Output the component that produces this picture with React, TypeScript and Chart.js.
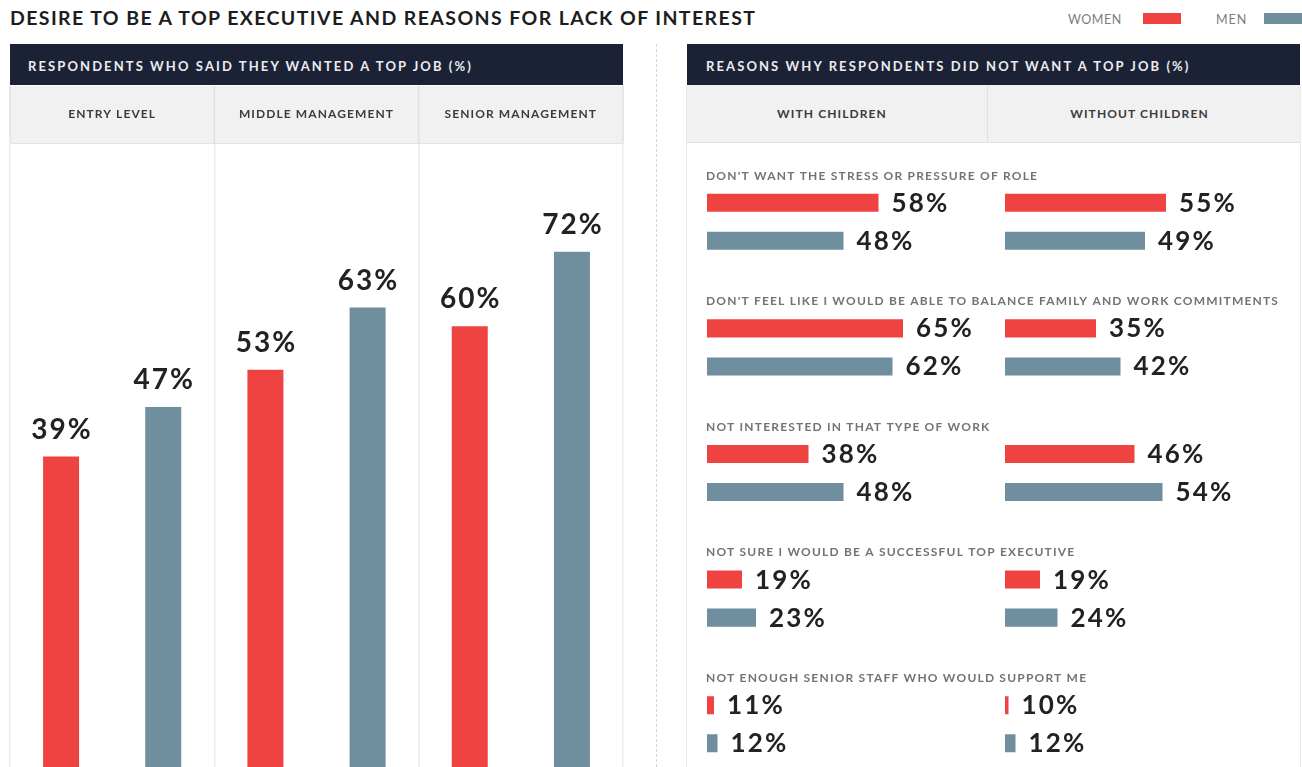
import React, { useEffect, useRef } from "react";
import { Chart, registerables } from "chart.js";

Chart.register(...registerables);

// ---------- data ----------
const TITLE = "DESIRE TO BE A TOP EXECUTIVE AND REASONS FOR LACK OF INTEREST";
const SERIES = ["WOMEN", "MEN"];
const LEFT_HEADER = "RESPONDENTS WHO SAID THEY WANTED A TOP JOB (%)";
const RIGHT_HEADER = "REASONS WHY RESPONDENTS DID NOT WANT A TOP JOB (%)";

const LEVELS = ["ENTRY LEVEL", "MIDDLE MANAGEMENT", "SENIOR MANAGEMENT"];
const WANT_WOMEN = [39, 53, 60];
const WANT_MEN = [47, 63, 72];

const GROUPS = ["WITH CHILDREN", "WITHOUT CHILDREN"];
const REASONS = [
  "DON'T WANT THE STRESS OR PRESSURE OF ROLE",
  "DON'T FEEL LIKE I WOULD BE ABLE TO BALANCE FAMILY AND WORK COMMITMENTS",
  "NOT INTERESTED IN THAT TYPE OF WORK",
  "NOT SURE I WOULD BE A SUCCESSFUL TOP EXECUTIVE",
  "NOT ENOUGH SENIOR STAFF WHO WOULD SUPPORT ME",
];
const WITH_CHILDREN_WOMEN = [58, 65, 38, 19, 11];
const WITH_CHILDREN_MEN = [48, 62, 48, 23, 12];
const WITHOUT_CHILDREN_WOMEN = [55, 35, 46, 19, 10];
const WITHOUT_CHILDREN_MEN = [49, 42, 54, 24, 12];

// ---------- style ----------
const RED = "#ee4340";
const SLATE = "#6f8e9e";
const DARK = "#1c2235";
const FONT = "Lato, 'Open Sans', sans-serif";

function LeftChart() {
  const ref = useRef<HTMLCanvasElement>(null);
  useEffect(() => {
    if (!ref.current) return;
    const bandPlugin = {
      id: "band",
      beforeDraw(chart: any) {
        const { ctx } = chart;
        const x = chart.scales.x;
        ctx.save();
        ctx.fillStyle = "#f1f1f1";
        ctx.fillRect(x.left, x.top, x.right - x.left, x.bottom - x.top);
        ctx.strokeStyle = "#e0e0e0";
        ctx.lineWidth = 1.5;
        const n = LEVELS.length;
        for (let i = 0; i <= n; i++) {
          const px = x.left + (i * (x.right - x.left)) / n;
          ctx.beginPath();
          ctx.moveTo(px, x.top);
          ctx.lineTo(px, x.bottom);
          ctx.stroke();
        }
        ctx.restore();
        (ctx as any).letterSpacing = "1.1px";
      },
      afterDatasetsDraw(chart: any) {
        const { ctx } = chart;
        ctx.save();
        ctx.font = `bold 28px ${FONT}`;
        (ctx as any).letterSpacing = "2px";
        ctx.fillStyle = "#222222";
        ctx.textAlign = "center";
        ctx.textBaseline = "alphabetic";
        chart.data.datasets.forEach((ds: any, di: number) => {
          chart.getDatasetMeta(di).data.forEach((el: any, i: number) => {
            ctx.fillText(`${ds.data[i]}%`, el.x + 1, el.y - 18);
          });
        });
        ctx.restore();
      },
    };
    const chart = new Chart(ref.current, {
      type: "bar",
      data: {
        labels: LEVELS,
        datasets: [
          {
            label: SERIES[0],
            data: WANT_WOMEN,
            backgroundColor: RED,
            base: -11,
            categoryPercentage: 1,
            barPercentage: 0.3523,
          } as any,
          {
            label: SERIES[1],
            data: WANT_MEN,
            backgroundColor: SLATE,
            base: -11,
            categoryPercentage: 1,
            barPercentage: 0.3523,
          } as any,
        ],
      },
      options: {
        animation: false,
        responsive: false,
        devicePixelRatio: 1,
        layout: { padding: { left: 1, right: 2, top: 0, bottom: 0 } },
        plugins: { legend: { display: false }, tooltip: { enabled: false } },
        scales: {
          x: {
            position: "top",
            grid: { color: "#ebebeb", lineWidth: 1.5, drawTicks: false, offset: true },
            border: { display: true, color: "#e2e2e2", width: 1 },
            ticks: {
              font: { family: FONT, size: 12, weight: "bold" },
              color: "#3b3b3b",
              padding: 21.3,
            },
          },
          y: { display: false, min: -11, max: 89.5 },
        },
      },
      plugins: [bandPlugin],
    });
    return () => chart.destroy();
  }, []);
  return (
    <canvas
      ref={ref}
      width={616}
      height={681}
      style={{ position: "absolute", left: 9, top: 86, width: 616, height: 681 }}
    />
  );
}

function ReasonChart(props: {
  women: number[];
  men: number[];
  left: number;
  width: number;
  padLeft: number;
  padRight: number;
  drawTitles: boolean;
}) {
  const ref = useRef<HTMLCanvasElement>(null);
  useEffect(() => {
    if (!ref.current) return;
    const labelPlugin = {
      id: "reasonLabels",
      afterDatasetsDraw(chart: any) {
        const { ctx } = chart;
        ctx.save();
        if (props.drawTitles) {
          const y = chart.scales.y;
          ctx.font = `bold 12px ${FONT}`;
          (ctx as any).letterSpacing = "1.2px";
          ctx.fillStyle = "#737373";
          ctx.textAlign = "left";
          ctx.textBaseline = "middle";
          REASONS.forEach((r, i) => {
            ctx.fillText(r, chart.chartArea.left - 1, y.getPixelForValue(i) - 46);
          });
        }
        ctx.font = `bold 26px ${FONT}`;
        (ctx as any).letterSpacing = "2.2px";
        ctx.fillStyle = "#222222";
        ctx.textAlign = "left";
        ctx.textBaseline = "alphabetic";
        chart.data.datasets.forEach((ds: any, di: number) => {
          chart.getDatasetMeta(di).data.forEach((el: any, i: number) => {
            ctx.fillText(`${ds.data[i]}%`, el.x + 13, el.y + 9);
          });
        });
        ctx.restore();
      },
    };
    const chart = new Chart(ref.current, {
      type: "bar",
      data: {
        labels: REASONS,
        datasets: [
          {
            label: SERIES[0],
            data: props.women,
            backgroundColor: RED,
            categoryPercentage: 0.6056,
            barPercentage: 0.474,
          },
          {
            label: SERIES[1],
            data: props.men,
            backgroundColor: SLATE,
            categoryPercentage: 0.6056,
            barPercentage: 0.474,
          },
        ],
      },
      options: {
        indexAxis: "y",
        animation: false,
        responsive: false,
        devicePixelRatio: 1,
        layout: { padding: { left: props.padLeft, right: props.padRight, top: 16, bottom: 0 } },
        plugins: { legend: { display: false }, tooltip: { enabled: false } },
        scales: {
          x: { display: false, min: 9, max: 89 },
          y: { display: false },
        },
      },
      plugins: [labelPlugin],
    });
    return () => chart.destroy();
  }, []);
  return (
    <canvas
      ref={ref}
      width={props.width}
      height={644}
      style={{ position: "absolute", left: props.left, top: 143, width: props.width, height: 644 }}
    />
  );
}

const headerStyle: React.CSSProperties = {
  position: "absolute",
  top: 44,
  height: 41,
  lineHeight: "45px",
  background: DARK,
  color: "#ececf0",
  fontFamily: FONT,
  fontWeight: 700,
  fontSize: 13,
  letterSpacing: "2.1px",
  boxSizing: "border-box",
  whiteSpace: "nowrap",
  overflow: "hidden",
};

const cellStyle: React.CSSProperties = {
  position: "absolute",
  top: 0,
  height: 57,
  lineHeight: "57px",
  textAlign: "center",
  fontFamily: FONT,
  fontWeight: 700,
  fontSize: 12,
  letterSpacing: "1.1px",
  color: "#3b3b3b",
  boxSizing: "border-box",
};

export default function App() {
  return (
    <div
      style={{
        position: "fixed",
        left: 0,
        top: 0,
        width: 1302,
        height: 767,
        overflow: "hidden",
        background: "#ffffff",
        fontFamily: FONT,
      }}
    >
      <div
        style={{
          position: "absolute",
          left: 10,
          top: 5,
          fontSize: 19.5,
          fontWeight: 700,
          color: "#1d1d1d",
          letterSpacing: "1.4px",
          whiteSpace: "nowrap",
          lineHeight: "26px",
        }}
      >
        {TITLE}
      </div>

      {/* legend */}
      <div style={{ position: "absolute", left: 1068, top: 12, fontSize: 12.5, color: "#7d7d7d", letterSpacing: "0.5px", lineHeight: "16px" }}>
        {SERIES[0]}
      </div>
      <div style={{ position: "absolute", left: 1143, top: 13, width: 38, height: 11, background: RED }} />
      <div style={{ position: "absolute", left: 1216, top: 12, fontSize: 12.5, color: "#7d7d7d", letterSpacing: "1px", lineHeight: "16px" }}>
        {SERIES[1]}
      </div>
      <div style={{ position: "absolute", left: 1264, top: 13, width: 38, height: 11, background: SLATE }} />

      {/* left panel */}
      <div style={{ ...headerStyle, left: 10, width: 613, paddingLeft: 18 }}>{LEFT_HEADER}</div>
      <LeftChart />

      {/* dashed divider */}
      <div style={{ position: "absolute", left: 656, top: 44, height: 723, borderLeft: "1px dashed #d6d6d6" }} />

      {/* right panel */}
      <div style={{ ...headerStyle, left: 687, width: 613, paddingLeft: 19 }}>{RIGHT_HEADER}</div>
      <div
        style={{
          position: "absolute",
          left: 686,
          top: 85,
          width: 613,
          height: 700,
          borderLeft: "1.5px solid #e8e8e8",
          borderRight: "1.5px solid #e8e8e8",
        }}
      />
      <div
        style={{
          position: "absolute",
          left: 687,
          top: 85,
          width: 613,
          height: 57,
          background: "#f1f1f1",
          borderBottom: "1px solid #e2e2e2",
        }}
      >
        <div style={{ ...cellStyle, left: 0, width: 301, paddingRight: 10, borderRight: "1.5px solid #e0e0e0" }}>{GROUPS[0]}</div>
        <div style={{ ...cellStyle, left: 302, width: 311, paddingRight: 10 }}>{GROUPS[1]}</div>
      </div>
      <ReasonChart
        women={WITH_CHILDREN_WOMEN}
        men={WITH_CHILDREN_MEN}
        left={687}
        width={613}
        padLeft={20}
        padRight={313}
        drawTitles={true}
      />
      <ReasonChart
        women={WITHOUT_CHILDREN_WOMEN}
        men={WITHOUT_CHILDREN_MEN}
        left={988}
        width={312}
        padLeft={17}
        padRight={15}
        drawTitles={false}
      />
    </div>
  );
}
